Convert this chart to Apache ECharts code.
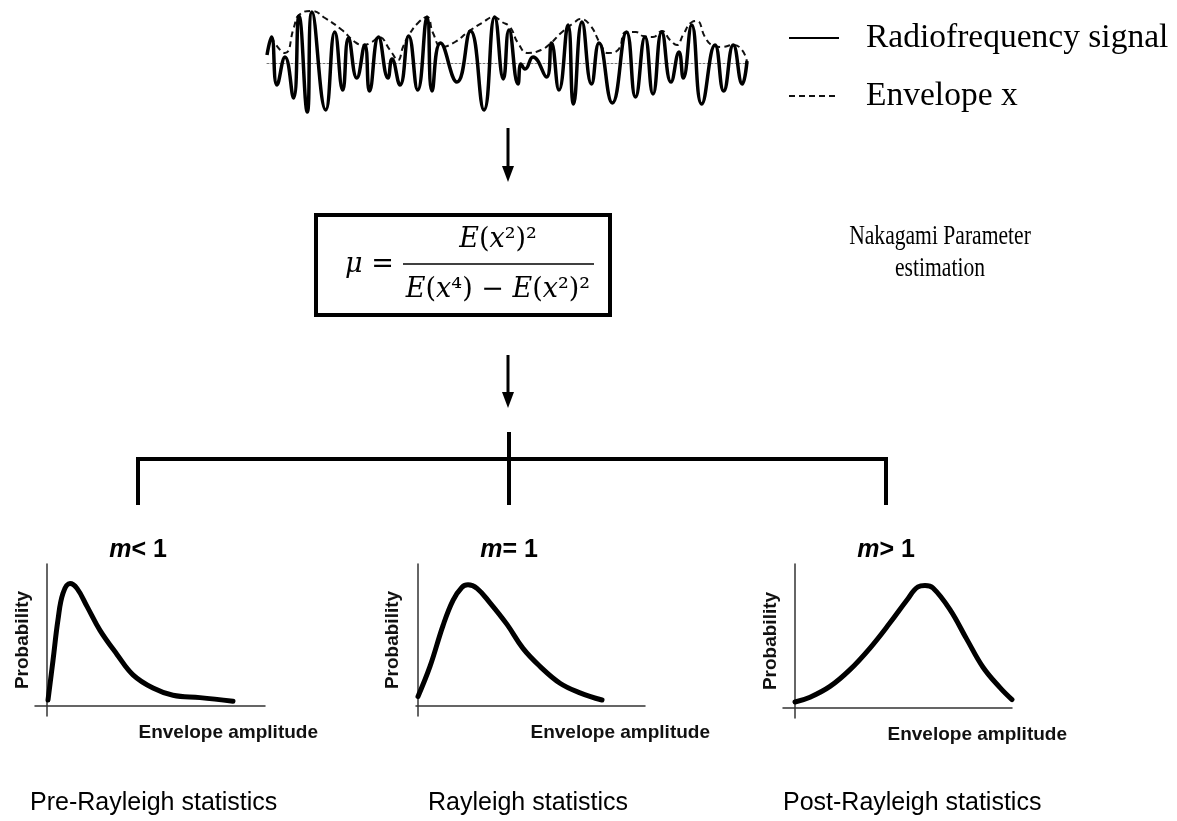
<!DOCTYPE html>
<html>
<head>
<meta charset="utf-8">
<title>Nakagami parameter estimation</title>
<script src="https://cdn.jsdelivr.net/npm/echarts@6/dist/echarts.min.js"></script>
<style>
  html, body { margin: 0; padding: 0; background: #ffffff; }
  #chart { width: 1177px; height: 821px; }
</style>
</head>
<body>
<div id="chart"></div>
<script>
// Radiofrequency signal: sample position and amplitude at each turning point
const sigT = [0, 4.5, 10, 18, 26.5, 32, 40.3, 45, 58.7, 67.8, 75.7, 81.5, 89.8, 97.8, 102.5,
  111.5, 121, 125, 133, 141.7, 150.7, 160, 165, 173.5, 190, 203.5, 217, 227.7, 236.3, 242,
  251, 254, 258, 266, 279.5, 284.5, 292, 301, 306.5, 315, 324.5, 332, 345.3, 359.5, 368.5,
  378, 386, 394.7, 404, 412, 416.3, 424.7, 434.7, 448, 456.7, 466.3, 475.3, 480];
const sigA = [8, 26, -22, 6, -35, 47, -49, 51, -47, 31, -27, 25, -15, 18, -28,
  26, -15, 4, -22, 27, -27, 46, -28, 20, -19, 32, -47, 46, -16, 33,
  -21, -1, -6, 6, -14, 20, -27, 38, -41, 41, -21, 20, -40, 31, -34,
  26, -31, 31, -19, 11, -15, 38, -41, 18, -28, 18, -21, 2];

// Envelope x of the signal
const envT = [4, 18, 27, 32, 45, 58, 75, 88, 96, 105, 112, 123, 131, 136, 142, 151, 160, 166,
  175, 188, 201, 215, 227, 235, 243, 251, 261, 274, 284, 294, 308, 313, 323, 333, 341, 351,
  359, 369, 376, 386, 395, 403, 410, 416, 425, 430, 438, 445, 455, 466, 475, 480];
const envA = [26, 10, 36, 48, 52, 45, 33, 21, 18, 21, 26, 13, 3, 16, 28, 40, 46, 30,
  16, 21, 31, 40, 46, 41, 36, 20, 10, 13, 20, 30, 41, 44, 38, 20, 10, 13,
  31, 31, 27, 26, 32, 23, 18, 28, 41, 42, 26, 18, 16, 18, 13, 1];

// Probability curves versus envelope amplitude
const preX  = [0.05, 0.3, 0.55, 0.8, 1.15, 1.5, 2.0, 2.65, 3.5, 4.3, 5.3, 6.3, 7.65, 9.3];
const preY  = [0.05, 0.38, 0.72, 0.94, 1.02, 0.98, 0.83, 0.63, 0.43, 0.26, 0.15, 0.09, 0.07, 0.04];
const rayX  = [0, 0.6, 1.25, 1.75, 2.2, 2.5, 2.95, 3.6, 4.45, 5.25, 6.1, 7.1, 8.1, 9.2];
const rayY  = [0.08, 0.33, 0.67, 0.88, 0.99, 1.01, 0.98, 0.86, 0.68, 0.48, 0.33, 0.19, 0.11, 0.05];
const postX = [0, 0.75, 1.75, 2.75, 3.75, 4.75, 5.6, 6.15, 6.5, 6.9, 7.75, 8.6, 9.4, 10.25, 10.85];
const postY = [0.05, 0.09, 0.18, 0.32, 0.5, 0.71, 0.9, 1.01, 1.02, 1.0, 0.82, 0.57, 0.34, 0.17, 0.07];

// Text
const seriesNames = ['Radiofrequency signal', 'Envelope x'];
const caseLabels = [['<', 1], ['=', 1], ['>', 1]];
const statNames = ['Pre-Rayleigh statistics', 'Rayleigh statistics', 'Post-Rayleigh statistics'];
const estimationText = 'Nakagami Parameter\nestimation';
const xName = 'Envelope amplitude';
const yName = 'Probability';

const zip = (xs, ys) => xs.map((x, i) => [x, ys[i]]);

const SERIF = '"Liberation Serif", "DejaVu Serif", serif';
const MATH = '"DejaVu Serif", "Liberation Serif", serif';
const SANS = '"Liberation Sans", Arial, sans-serif';

const chart = echarts.init(document.getElementById('chart'), null, { renderer: 'canvas' });

// small distribution panels
const panels = [
  { left: 35,  width: 230, top: 564, height: 152, xmin: -0.6, xmax: 10.9,  ymin: -0.083, ymax: 1.183, gap: 53, ygap: 3 },
  { left: 416, width: 229, top: 564, height: 152, xmin: -0.1, xmax: 11.35, ymin: -0.083, ymax: 1.183, gap: 65, ygap: 14 },
  { left: 783, width: 229, top: 564, height: 154, xmin: -0.6, xmax: 10.85, ymin: -0.083, ymax: 1.2,   gap: 55, ygap: 3 }
];
const panelData = [zip(preX, preY), zip(rayX, rayY), zip(postX, postY)];

const grids = [{ left: 267, top: 7, width: 481, height: 110 }];
const xAxes = [{
  gridIndex: 0, type: 'value', min: 0, max: 481,
  axisLine: { show: true, onZero: true, lineStyle: { color: '#777', width: 1, type: [2, 2] } },
  axisTick: { show: false }, axisLabel: { show: false }, splitLine: { show: false }
}];
const yAxes = [{
  gridIndex: 0, type: 'value', min: -54, max: 56,
  axisLine: { show: false }, axisTick: { show: false }, axisLabel: { show: false }, splitLine: { show: false }
}];

panels.forEach((p, i) => {
  grids.push({ left: p.left, top: p.top, width: p.width, height: p.height });
  xAxes.push({
    gridIndex: i + 1, type: 'value', min: p.xmin, max: p.xmax,
    name: xName, nameLocation: 'end', nameGap: p.gap,
    nameTextStyle: { fontFamily: SANS, fontWeight: 'bold', fontSize: 19, color: '#111',
      align: 'right', verticalAlign: 'top', padding: [17, 0, 0, 0] },
    axisLine: { show: true, onZero: true, lineStyle: { color: '#333', width: 1.5 } },
    axisTick: { show: false }, axisLabel: { show: false }, splitLine: { show: false }
  });
  yAxes.push({
    gridIndex: i + 1, type: 'value', min: p.ymin, max: p.ymax,
    name: yName, nameLocation: 'middle', nameRotate: 90, nameGap: p.ygap,
    nameTextStyle: { fontFamily: SANS, fontWeight: 'bold', fontSize: 19, color: '#111' },
    axisLine: { show: true, onZero: true, lineStyle: { color: '#333', width: 1.5 } },
    axisTick: { show: false }, axisLabel: { show: false }, splitLine: { show: false }
  });
});

const series = [
  {
    name: seriesNames[0], type: 'line', xAxisIndex: 0, yAxisIndex: 0,
    data: zip(sigT, sigA), smooth: 0.5, symbol: 'none',
    lineStyle: { color: '#000', width: 3.5 }, itemStyle: { color: '#000' }, z: 3
  },
  {
    name: seriesNames[1], type: 'line', xAxisIndex: 0, yAxisIndex: 0,
    data: zip(envT, envA), smooth: 0.5, symbol: 'none',
    lineStyle: { color: '#111', width: 2, type: [6, 4] }, itemStyle: { color: '#111' }, z: 2
  }
];
panelData.forEach((d, i) => {
  series.push({
    type: 'line', xAxisIndex: i + 1, yAxisIndex: i + 1,
    data: d, smooth: 0.4, symbol: 'none',
    lineStyle: { color: '#000', width: 5, cap: 'round', join: 'round' }
  });
});

// flow-chart pieces: arrows, estimator box, branching bracket, captions
const arrow = (x, y0, y1) => ([
  { type: 'line', shape: { x1: x, y1: y0, x2: x, y2: y1 - 14 }, style: { stroke: '#000', lineWidth: 3 } },
  { type: 'polygon', shape: { points: [[x - 6, y1 - 16], [x + 6, y1 - 16], [x, y1]] }, style: { fill: '#000' } }
]);

const mathRich = {
  i: { fontFamily: MATH, fontStyle: 'italic', fontSize: 27, color: '#000' },
  n: { fontFamily: MATH, fontSize: 27, color: '#000' }
};

const bracketX = [138, 509, 886];
const statLeft = [30, 428, 783];

const graphics = [
  ...arrow(508, 128, 182),
  { type: 'rect', shape: { x: 316, y: 215, width: 294, height: 100 },
    style: { fill: 'none', stroke: '#000', lineWidth: 4 } },
  { type: 'text', x: 345, y: 265,
    style: { text: '{i|μ}{n| =}', rich: mathRich, align: 'left', verticalAlign: 'middle' } },
  { type: 'text', x: 498, y: 240,
    style: { text: '{i|E}{n|(}{i|x}{n|²)²}', rich: mathRich, align: 'center', verticalAlign: 'middle' } },
  { type: 'line', shape: { x1: 403, y1: 264, x2: 594, y2: 264 }, style: { stroke: '#000', lineWidth: 1.5 } },
  { type: 'text', x: 498, y: 290,
    style: { text: '{i|E}{n|(}{i|x}{n|⁴) − }{i|E}{n|(}{i|x}{n|²)²}', rich: mathRich, align: 'center', verticalAlign: 'middle' } },
  { type: 'text', x: 940, y: 253, scaleX: 0.8,
    style: { text: estimationText, font: '27px ' + SERIF, fill: '#000', align: 'center', verticalAlign: 'middle', lineHeight: 32 } },
  ...arrow(508, 355, 408),
  { type: 'polyline', shape: { points: [[bracketX[0], 505], [bracketX[0], 459], [bracketX[2], 459], [bracketX[2], 505]] },
    style: { stroke: '#000', lineWidth: 4, fill: 'none' } },
  { type: 'line', shape: { x1: bracketX[1], y1: 432, x2: bracketX[1], y2: 505 }, style: { stroke: '#000', lineWidth: 4 } }
];

caseLabels.forEach((c, i) => {
  graphics.push({
    type: 'text', x: bracketX[i], y: 550,
    style: {
      text: '{m|m}{o|' + c[0] + ' ' + c[1] + '}',
      rich: {
        m: { fontFamily: SANS, fontWeight: 'bold', fontStyle: 'italic', fontSize: 25, color: '#000' },
        o: { fontFamily: SANS, fontWeight: 'bold', fontSize: 25, color: '#000' }
      },
      align: 'center', verticalAlign: 'middle'
    }
  });
});

statNames.forEach((s, i) => {
  graphics.push({
    type: 'text', x: statLeft[i], y: 803,
    style: { text: s, font: '25px ' + SANS, fill: '#000', align: 'left', verticalAlign: 'middle' }
  });
});

const legendText = { fontFamily: SERIF, fontSize: 33.5, color: '#000', lineHeight: 34, padding: [0, 0, 0, 22] };

chart.setOption({
  animation: false,
  backgroundColor: '#ffffff',
  legend: [
    { data: [seriesNames[0]], orient: 'vertical', left: 788, top: 21, padding: 0,
      itemWidth: 50, itemHeight: 14, selectedMode: false, itemStyle: { opacity: 0 },
      textStyle: legendText },
    { data: [seriesNames[1]], orient: 'vertical', left: 788, top: 79, padding: 0,
      itemWidth: 50, itemHeight: 14, selectedMode: false, itemStyle: { opacity: 0 },
      textStyle: legendText }
  ],
  grid: grids,
  xAxis: xAxes,
  yAxis: yAxes,
  series: series,
  graphic: { elements: graphics }
});
</script>
</body>
</html>
